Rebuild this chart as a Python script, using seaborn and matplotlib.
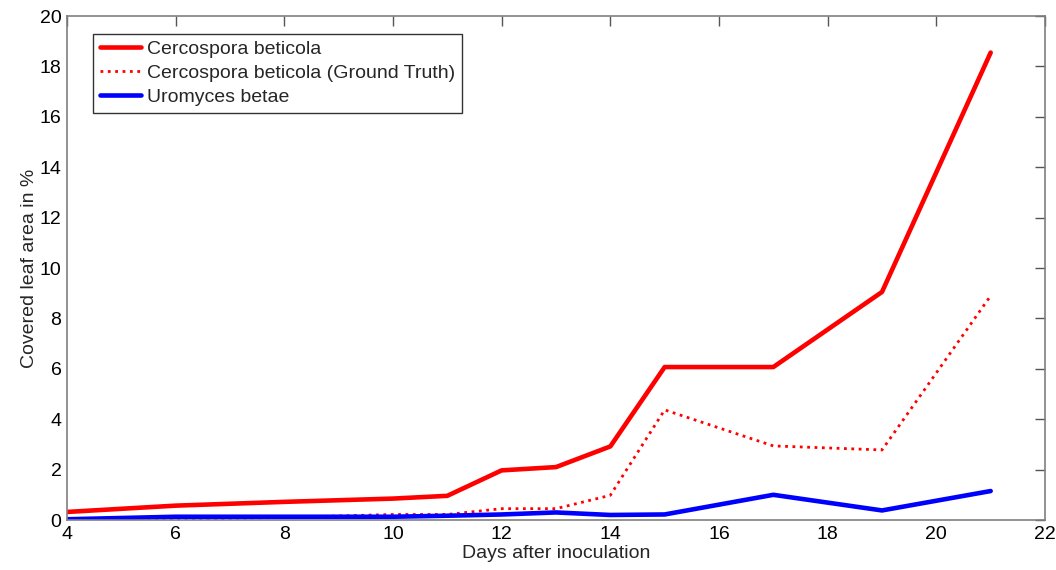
import matplotlib
matplotlib.use("Agg")
import matplotlib.pyplot as plt
import seaborn as sns
import pandas as pd

# days after inoculation
days = [4, 6, 8, 10, 11, 12, 13, 14, 15, 17, 19, 21]

# covered leaf area in %
cercospora = [0.32, 0.57, 0.72, 0.85, 0.96, 1.97, 2.1, 2.92, 6.07, 6.07, 9.05, 18.55]
cercospora_gt = [0.0, 0.02, 0.1, 0.22, 0.22, 0.45, 0.45, 0.98, 4.37, 2.94, 2.78, 8.9]
uromyces = [0.03, 0.13, 0.13, 0.13, 0.17, 0.22, 0.3, 0.2, 0.22, 1.0, 0.38, 1.15]

x_ticks = list(range(4, 23, 2))
y_ticks = list(range(0, 21, 2))

df = pd.DataFrame({
    'day': days,
    'Cercospora beticola': cercospora,
    'Cercospora beticola (Ground Truth)': cercospora_gt,
    'Uromyces betae': uromyces,
})

sns.set_style("white")
plt.rcParams['font.family'] = ['Liberation Sans', 'DejaVu Sans']

fig = plt.figure(figsize=(10.56, 5.70), dpi=100)
ax = fig.add_axes([0.0634, 0.0877, 0.9262, 0.8842])

# --- lines ---
sns.lineplot(data=df, x='day', y='Cercospora beticola', color='#ff0000',
             linewidth=3.3, label='Cercospora beticola', ax=ax)
sns.lineplot(data=df, x='day', y='Cercospora beticola (Ground Truth)', color='#ff0000',
             linewidth=2, linestyle=':', label='Cercospora beticola (Ground Truth)', ax=ax)
sns.lineplot(data=df, x='day', y='Uromyces betae', color='#0000ff',
             linewidth=3.3, label='Uromyces betae', ax=ax)

# --- axes ---
ax.set_xlim(4, 22)
ax.set_ylim(0, 20)
ax.set_xticks(x_ticks)
ax.set_yticks(y_ticks)
ax.tick_params(direction='in', length=7, width=1, top=True, right=True,
               labelsize=14, colors='#555555', labelcolor='black', pad=4)
for s in ax.spines.values():
    s.set_color('#7f7f7f')
    s.set_linewidth(1.2)
    s.set_visible(True)

ax.set_xlabel('Days after inoculation', fontsize=14, labelpad=2)
ax.set_ylabel('Covered leaf area in %', fontsize=14, labelpad=1)

leg = ax.legend(loc='upper left', bbox_to_anchor=(0.027, 0.965), fontsize=14,
                frameon=True, fancybox=False, handlelength=2.1, handletextpad=0.3,
                borderpad=0.35, labelspacing=0.32, borderaxespad=0)
leg.get_frame().set_edgecolor('black')
leg.get_frame().set_linewidth(1)

fig.savefig('out.png', dpi=100)
